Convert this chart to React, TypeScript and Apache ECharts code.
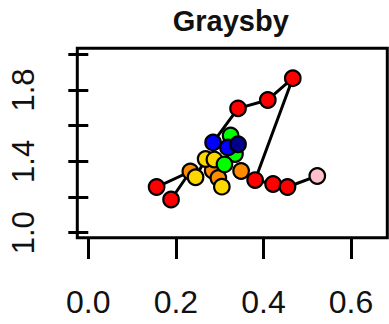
import React, { useEffect, useRef } from "react";
import * as echarts from "echarts";

// Point data (x, y, colour)
const pointX = [
  0.467, 0.410, 0.342, 0.381, 0.422, 0.455, 0.156, 0.189, 0.523,
  0.233, 0.284, 0.297, 0.349,
  0.268, 0.288, 0.245, 0.305,
  0.325, 0.335, 0.311,
  0.285, 0.319,
  0.342,
];
const pointY = [
  1.866, 1.744, 1.697, 1.295, 1.273, 1.256, 1.256, 1.186, 1.318,
  1.343, 1.348, 1.307, 1.346,
  1.413, 1.410, 1.311, 1.258,
  1.545, 1.441, 1.383,
  1.506, 1.478,
  1.496,
];
const pointColor = [
  "#FF0000", "#FF0000", "#FF0000", "#FF0000", "#FF0000", "#FF0000", "#FF0000", "#FF0000", "#FFC0CB",
  "#FF8C00", "#FF8C00", "#FF8C00", "#FF8C00",
  "#FFD700", "#FFD700", "#FFD700", "#FFD700",
  "#00FF00", "#00FF00", "#00FF00",
  "#0000FF", "#0000FF",
  "#00008B",
];
// connecting paths (indices into the point arrays)
const paths = [
  [8, 5, 4, 3, 0, 1, 2, 20, 21, 22, 17, 18, 19, 11, 16, 10, 14, 13, 15, 9, 6],
  [7, 9],
  [3, 12],
];

const xTickLabels = ["0.0", "0.2", "0.4", "0.6"];
const yTickLabels = ["1.0", "1.4", "1.8"];
const title = "Graysby";

const FONT = "Liberation Sans, Arial, Helvetica, sans-serif";

export default function App() {
  const ref = useRef<HTMLDivElement>(null);
  useEffect(() => {
    if (!ref.current) return;
    const chart = echarts.init(ref.current, null, { renderer: "svg" });
    const lineSeries = paths.map((p) => ({
      type: "line",
      data: p.map((i) => [pointX[i], pointY[i]]),
      showSymbol: false,
      symbol: "none",
      lineStyle: { color: "#000", width: 3, opacity: 1 },
      z: 2,
      silent: true,
    }));
    chart.setOption({
      animation: false,
      grid: {
        left: 88.3,
        top: 54.3,
        width: 262.7,
        height: 178.4,
        outerBoundsMode: "none",
        containLabel: false,
      },
      xAxis: {
        type: "value",
        min: 0,
        max: 0.6,
        interval: 0.2,
        position: "bottom",
        offset: 6.3,
        axisLine: { show: false },
        splitLine: { show: false },
        axisTick: { show: true, length: 20, lineStyle: { color: "#000", width: 3 } },
        axisLabel: {
          margin: 47,
          fontSize: 32,
          color: "#111",
          fontFamily: FONT,
          formatter: (v: number) => {
            const s = v.toFixed(1);
            return xTickLabels.includes(s) ? s : "";
          },
        },
      },
      yAxis: {
        type: "value",
        min: 1,
        max: 2,
        interval: 0.2,
        position: "left",
        offset: 11.6,
        axisLine: { show: false },
        splitLine: { show: false },
        axisTick: { show: true, length: 20, lineStyle: { color: "#000", width: 3 } },
        axisLabel: {
          rotate: 90,
          margin: 38,
          fontSize: 31,
          color: "#111",
          fontFamily: FONT,
          formatter: (v: number) => {
            const s = v.toFixed(1);
            return yTickLabels.includes(s) ? s : "";
          },
        },
      },
      graphic: [
        {
          type: "rect",
          shape: { x: 77.3, y: 48.3, width: 310, height: 189.4 },
          style: { fill: "none", stroke: "#000", lineWidth: 3 },
          silent: true,
        },
        {
          type: "text",
          x: 230.8,
          y: 21.4,
          style: {
            text: title,
            fontSize: 29,
            fontWeight: "bold",
            fontFamily: FONT,
            fill: "#111",
            textAlign: "center",
            textVerticalAlign: "middle",
          },
        },
      ],
      series: [
        ...lineSeries,
        {
          type: "scatter",
          z: 3,
          symbol: "circle",
          symbolSize: 15.5,
          data: pointX.map((x, i) => ({
            value: [x, pointY[i]],
            itemStyle: { color: pointColor[i], borderColor: "#000", borderWidth: 2.2, opacity: 1 },
          })),
          itemStyle: { opacity: 1 },
          silent: true,
        },
      ],
    });
    return () => chart.dispose();
  }, []);
  return (
    <div
      ref={ref}
      style={{ position: "fixed", left: 0, top: 0, width: 389, height: 324, background: "#fff" }}
    />
  );
}
